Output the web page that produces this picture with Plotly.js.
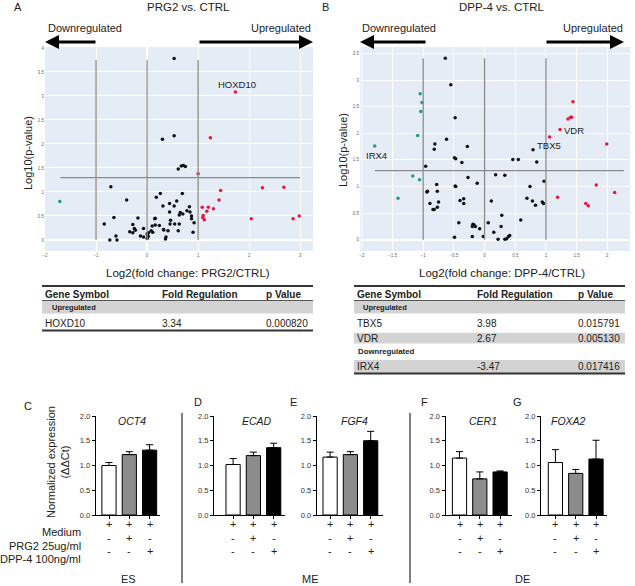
<!DOCTYPE html>
<html>
<head>
<meta charset="utf-8">
<script src="https://cdn.plot.ly/plotly-3.0.1.min.js"></script>
<style>html,body{margin:0;padding:0;background:#fff}#chart{width:635px;height:586px}</style>
</head>
<body>
<div id="chart"></div>
<script>
// ---------------- DATA ----------------
// Volcano A: PRG2 vs CTRL (log2 fold change, -log10 p)
const aBlackX = [0.53,0.30,0.53,0.61,0.67,0.71,0.75,-0.71,-0.40,0.26,0.18,0.69,0.58,0.44,0.31,-0.65,-0.84,-0.73,-0.61,-0.59,-0.18,-0.28,-0.25,-0.23,-0.34,-0.28,-0.07,-0.13,-0.07,0.00,0.01,0.02,0.00,0.03,0.08,0.11,0.10,0.16,0.15,0.16,0.24,0.33,0.41,0.37,0.36,0.45,0.46,0.54,0.44,0.53,0.63,0.63,0.61,0.65,0.70,0.78,0.83,0.84,0.87,0.87,0.92,0.90,0.32];
const aBlackY = [3.78,2.10,2.17,1.48,1.54,1.55,1.53,1.11,0.83,0.97,0.89,0.97,0.81,0.76,0.71,0.47,0.33,0.00,0.08,0.00,0.46,0.32,0.24,0.20,0.17,0.15,0.24,0.08,0.06,0.13,0.10,0.07,0.03,0.15,0.19,0.16,0.29,0.31,0.44,0.45,0.30,0.21,0.19,0.06,0.02,0.33,0.41,0.33,0.58,0.71,0.33,0.52,0.19,0.57,0.54,0.61,0.69,0.58,0.50,0.44,0.36,0.16,0.22];
const aRedX = [1.73,1.24,1.00,1.44,1.41,2.26,2.68,1.08,1.20,1.30,1.17,1.10,1.09,1.12,2.04,2.86,2.98];
const aRedY = [3.08,2.13,1.38,1.03,0.83,1.09,1.10,0.68,0.68,0.65,0.60,0.51,0.47,0.42,0.44,0.44,0.50];
const aGreenX = [-1.71];
const aGreenY = [0.80];

// Volcano B: DPP-4 vs CTRL
const bBlackX = [-0.64,-0.55,-0.48,-0.62,-0.81,-0.82,-0.28,-0.49,-0.47,-0.37,-0.96,-0.27,-0.48,-0.47,-0.12,-0.78,-0.93,-0.94,-0.77,-0.89,-0.75,-0.77,-0.84,-0.82,-0.40,-0.34,-0.34,-0.42,-0.19,-0.17,-0.20,-0.15,-0.08,-0.49,-0.20,-0.02,0.06,0.15,0.11,0.18,0.33,0.28,0.27,0.22,0.33,0.36,0.39,0.41,0.59,0.46,0.55,0.79,0.85,0.74,0.97,0.69,0.78,0.83,0.94,0.96];
const bBlackY = [3.41,2.91,2.29,1.89,1.80,1.70,1.75,1.54,1.52,1.45,1.38,1.17,1.01,1.00,1.06,1.04,0.91,0.90,0.91,0.68,0.71,0.61,0.57,0.57,0.74,0.77,0.68,0.32,0.29,0.28,0.25,0.25,0.21,0.05,0.06,0.06,0.32,0.14,0.73,1.22,1.21,0.46,0.25,0.01,0.01,0.02,0.06,0.08,0.37,1.51,1.51,1.69,1.46,1.00,1.10,0.78,0.73,0.65,0.71,0.68];
const bRedX = [1.44,1.40,1.42,1.36,1.23,1.06,1.99,1.82,2.12,1.19,1.65,1.69];
const bRedY = [2.59,2.30,2.30,2.27,2.07,1.93,1.80,1.03,0.89,0.80,0.68,0.64];
const bGreenX = [-1.05,-1.02,-1.04,-1.09,-1.79,-1.17,-1.06,-1.41];
const bGreenY = [2.74,2.58,2.41,1.96,1.76,1.20,1.13,0.78];

// Gene labels on volcano plots
const aLabels = ['HOXD10'];
const aLabelX = [1.76];
const aLabelY = [3.23];
const bLabels = ['VDR','TBX5','IRX4'];
const bLabelX = [1.45,1.05,-1.76];
const bLabelY = [2.06,1.78,1.58];

// Tables
const tblHeader = ['Gene Symbol','Fold Regulation','p Value'];
const tblAUpGenes = ['HOXD10'];
const tblAUpFold = ['3.34'];
const tblAUpP = ['0.000820'];
const tblBUpGenes = ['TBX5','VDR'];
const tblBUpFold = ['3.98','2.67'];
const tblBUpP = ['0.015791','0.005130'];
const tblBDownGenes = ['IRX4'];
const tblBDownFold = ['-3.47'];
const tblBDownP = ['0.017416'];

// qPCR bar panels
const barGenes = ['OCT4','ECAD','FGF4','CER1','FOXA2'];
const panelLetters = ['C','D','E','F','G'];
const meanMedium = [1.00,1.02,1.17,1.15,1.06];
const meanPRG2   = [1.22,1.20,1.22,0.73,0.84];
const meanDPP4   = [1.31,1.36,1.50,0.87,1.13];
const errMedium  = [0.06,0.12,0.10,0.13,0.26];
const errPRG2    = [0.06,0.07,0.06,0.14,0.08];
const errDPP4    = [0.11,0.09,0.19,0.02,0.38];
const condLabels = ['Medium','PRG2 25ug/ml','DPP-4 100ng/ml'];
const condMedium = ['+','+','+'];
const condPRG2   = ['-','+','-'];
const condDPP4   = ['-','-','+'];
const groupLabels = ['ES','ME','DE'];

// ---------------- LAYOUT HELPERS ----------------
const W = 635, H = 586;
const X = p => p / W;
const Y = p => 1 - p / H;
const FONT = 'Liberation Sans, Arial, sans-serif';
const RED = '#e8173f', GREEN = '#1f9e78';

const traces = [];
const shapes = [];
const annotations = [];
const layout = {
  width: W, height: H, margin: {l:0,r:0,t:0,b:0},
  paper_bgcolor: '#ffffff', plot_bgcolor: 'rgba(0,0,0,0)',
  showlegend: false, font: {family: FONT, color: '#222'},
  shapes: shapes, annotations: annotations
};

function txt(x, y, text, size, opts) {
  annotations.push(Object.assign({
    xref: 'paper', yref: 'paper', x: X(x), y: Y(y), text: text, showarrow: false,
    font: {family: FONT, size: size, color: '#222'}, xanchor: 'center', yanchor: 'middle'
  }, opts || {}));
}

// ---------------- VOLCANO PLOTS ----------------
const volc = [
  {ax:'', px:[45,313], py:[47,251], xr:[-2.0,3.25], yr:[-0.23,4.02], xd:1,
   blk:[aBlackX,aBlackY], red:[aRedX,aRedY], grn:[aGreenX,aGreenY],
   vtop:3.75, hx:[-1.7,3.0], lab:[aLabels,aLabelX,aLabelY]},
  {ax:'2', px:[360,630], py:[47,251], xr:[-2.03,2.37], yr:[-0.21,3.62], xd:0.5,
   blk:[bBlackX,bBlackY], red:[bRedX,bRedY], grn:[bGreenX,bGreenY],
   vtop:3.41, hx:[-1.79,2.27], lab:[bLabels,bLabelX,bLabelY]}
];
volc.forEach(v => {
  const xa = 'xaxis' + v.ax, ya = 'yaxis' + v.ax;
  const xr = 'x' + v.ax, yr = 'y' + v.ax;
  layout[xa] = {domain:[X(v.px[0]),X(v.px[1])], range:v.xr, anchor:yr, dtick:v.xd, tick0:0,
    showgrid:true, gridcolor:'#ffffff', gridwidth:1, zeroline:true, zerolinecolor:'#ffffff', zerolinewidth:1.5,
    ticks:'', tickfont:{size:4.5,color:'#666',family:FONT}, showline:false, fixedrange:true};
  layout[ya] = {domain:[Y(v.py[1]),Y(v.py[0])], range:v.yr, anchor:xr, dtick:0.5, tick0:0,
    showgrid:true, gridcolor:'#ffffff', gridwidth:1, zeroline:true, zerolinecolor:'#ffffff', zerolinewidth:1.5,
    ticks:'', tickfont:{size:4.5,color:'#666',family:FONT}, showline:false, fixedrange:true};
  shapes.push({type:'rect', xref:'paper', yref:'paper', x0:X(v.px[0]), x1:X(v.px[1]), y0:Y(v.py[1]), y1:Y(v.py[0]),
    fillcolor:'#e5ecf6', line:{width:0}, layer:'below'});
  [-1,0,1].forEach(xv => shapes.push({type:'line', xref:xr, yref:yr, x0:xv, x1:xv, y0:0, y1:v.vtop,
    line:{color:'#8c8c8c', width:1.3}}));
  shapes.push({type:'line', xref:xr, yref:yr, x0:v.hx[0], x1:v.hx[1], y0:1.3, y1:1.3, line:{color:'#8c8c8c', width:1.3}});
  [[v.blk,'#111111'],[v.red,RED],[v.grn,GREEN]].forEach(([d,c]) => traces.push({
    type:'scatter', mode:'markers', x:d[0], y:d[1], xaxis:xr, yaxis:yr,
    marker:{color:c, size:3.5, line:{width:0}}, hoverinfo:'skip'}));
  v.lab[0].forEach((t,i) => annotations.push({xref:xr, yref:yr, x:v.lab[1][i], y:v.lab[2][i], text:t,
    showarrow:false, font:{family:FONT, size:9.5, color:'#222'}}));
});

// headers, arrows, titles for volcano panels
txt(18, 7, 'A', 11); txt(188, 7, 'PRG2 vs. CTRL', 11.5);
txt(325, 7, 'B', 11); txt(502, 7, 'DPP-4 vs. CTRL', 11.5);
txt(85, 28, 'Downregulated', 11); txt(281, 28, 'Upregulated', 11);
txt(399, 28, 'Downregulated', 11); txt(593, 28, 'Upregulated', 11);
function arrow(tip, tail, y) {
  annotations.push({xref:'paper', yref:'paper', x:X(tip), y:Y(y), ax:tail-tip, ay:0, text:'',
    showarrow:true, arrowhead:2, arrowsize:1, arrowwidth:2.8, arrowcolor:'#000', standoff:0, startstandoff:0});
}
arrow(45, 97, 42); arrow(313, 198, 42); arrow(360, 427, 42); arrow(624, 545, 42);
txt(28, 153, 'Log10(p-value)', 11, {textangle:-90});
txt(343, 150, 'Log10(p-value)', 11, {textangle:-90});
txt(188, 273, 'Log2(fold change: PRG2/CTRL)', 11.5);
txt(502, 273, 'Log2(fold change: DPP-4/CTRL)', 11.5);

// ---------------- TABLES ----------------
function hline(x0, x1, y, w) {
  shapes.push({type:'line', xref:'paper', yref:'paper', x0:X(x0), x1:X(x1), y0:Y(y), y1:Y(y), line:{color:'#333', width:w}});
}
function band(x0, x1, y0, y1) {
  shapes.push({type:'rect', xref:'paper', yref:'paper', x0:X(x0), x1:X(x1), y0:Y(y1), y1:Y(y0), fillcolor:'#d3d3d3', line:{width:0}, layer:'below'});
}
function tableRow(cols, vals, y, size, bold) {
  vals.forEach((t,i) => txt(cols[i], y, bold ? '<b>'+t+'</b>' : t, size, {xanchor:'left'}));
}
// Table A
{
  const x0 = 42, x1 = 313, cols = [43, 160, 264];
  band(x0, x1, 300.5, 313.5);
  hline(x0, x1, 286, 2); hline(x0, x1, 300.5, 0.8); hline(x0, x1, 330.5, 2);
  tableRow(cols, tblHeader, 294.5, 10, true);
  txt(50, 307.5, '<b>Upregulated</b>', 7.5, {xanchor:'left'});
  tblAUpGenes.forEach((g,i) => tableRow(cols, [g, tblAUpFold[i], tblAUpP[i]], 323.5 + 14*i, 10, false));
}
// Table B
{
  const x0 = 354, x1 = 625, cols = [355, 475, 576];
  band(x0, x1, 300.5, 313.5);
  band(x0, x1, 332.7, 343.5);
  band(x0, x1, 360, 373.5);
  hline(x0, x1, 286, 2); hline(x0, x1, 300.5, 0.8); hline(x0, x1, 373.5, 2);
  tableRow(cols, tblHeader, 294.5, 10, true);
  txt(361, 307.5, '<b>Upregulated</b>', 7.5, {xanchor:'left'});
  const upY = [323.3, 338];
  tblBUpGenes.forEach((g,i) => tableRow(cols, [g, tblBUpFold[i], tblBUpP[i]], upY[i], 10, false));
  txt(356, 351.7, '<b>Downregulated</b>', 7.8, {xanchor:'left'});
  tblBDownGenes.forEach((g,i) => tableRow(cols, [g, tblBDownFold[i], tblBDownP[i]], 366.8, 10, false));
}

// ---------------- BAR PANELS ----------------
const panelPx = [[95.7,160,-0.655],[214,285,-0.94],[316.7,383,-0.66],[445.5,512,-0.69],[541,607,-0.71]];
const letterPos = [[28,406],[198,402],[293,402],[424,402],[517,402]];
const titlePos = [131.7, 257, 354, 483, 568];
const UNIT = 20.3;
const rowY = [531.5, 545.5, 559.3];
barGenes.forEach((g, k) => {
  const n = k + 3;
  const xa = 'xaxis' + n, ya = 'yaxis' + n, xr = 'x' + n, yr = 'y' + n;
  const [p0, p1, r0] = panelPx[k];
  const r1 = r0 + (p1 - p0) / UNIT;
  layout[xa] = {domain:[X(p0),X(p1)], range:[r0,r1], anchor:yr, showgrid:false, zeroline:false,
    showline:true, linecolor:'#000', linewidth:1, ticks:'outside', ticklen:3, tickcolor:'#000',
    tickvals:[0,1,2], showticklabels:false, fixedrange:true};
  layout[ya] = {domain:[Y(515),Y(416)], range:[0,2], anchor:xr, showgrid:false, zeroline:false,
    showline:true, linecolor:'#000', linewidth:1, ticks:'outside', ticklen:3, tickcolor:'#000',
    tickvals:[0,0.5,1,1.5,2], ticktext:['0.0','0.5','1.0','1.5','2.0'],
    tickfont:{size:7.5,color:'#333',family:FONT}, fixedrange:true};
  traces.push({type:'bar', x:[0,1,2], y:[meanMedium[k], meanPRG2[k], meanDPP4[k]], xaxis:xr, yaxis:yr,
    width:0.7, marker:{color:['#ffffff','#8c8c8c','#000000'], line:{color:'#000', width:1}},
    error_y:{type:'data', symmetric:false, array:[errMedium[k], errPRG2[k], errDPP4[k]], arrayminus:[0,0,0],
      color:'#000', thickness:1, width:3.5}, hoverinfo:'skip'});
  txt(titlePos[k], 421, '<i>' + g + '</i>', 10.5);
  txt(letterPos[k][0], letterPos[k][1], panelLetters[k], 11);
  [condMedium, condPRG2, condDPP4].forEach((row, r) => row.forEach((s, i) =>
    annotations.push({xref:xr, yref:'paper', x:i, y:Y(rowY[r]), text:s, showarrow:false,
      font:{family:FONT, size:11, color:'#222'}})));
});
condLabels.forEach((t, r) => txt(83, rowY[r], t, 11, {xanchor:'right'}));
txt(58, 462, 'Normalized expression<br>(ΔΔCt)', 11, {textangle:-90});
// group dividers and labels
[182, 410].forEach(x => shapes.push({type:'line', xref:'paper', yref:'paper', x0:X(x), x1:X(x), y0:Y(413), y1:Y(583),
  line:{color:'#555', width:1.5}}));
txt(128, 579, groupLabels[0], 11); txt(310, 579, groupLabels[1], 11); txt(522, 579, groupLabels[2], 11);

Plotly.newPlot('chart', traces, layout, {displayModeBar:false, staticPlot:true});
</script>
</body>
</html>
